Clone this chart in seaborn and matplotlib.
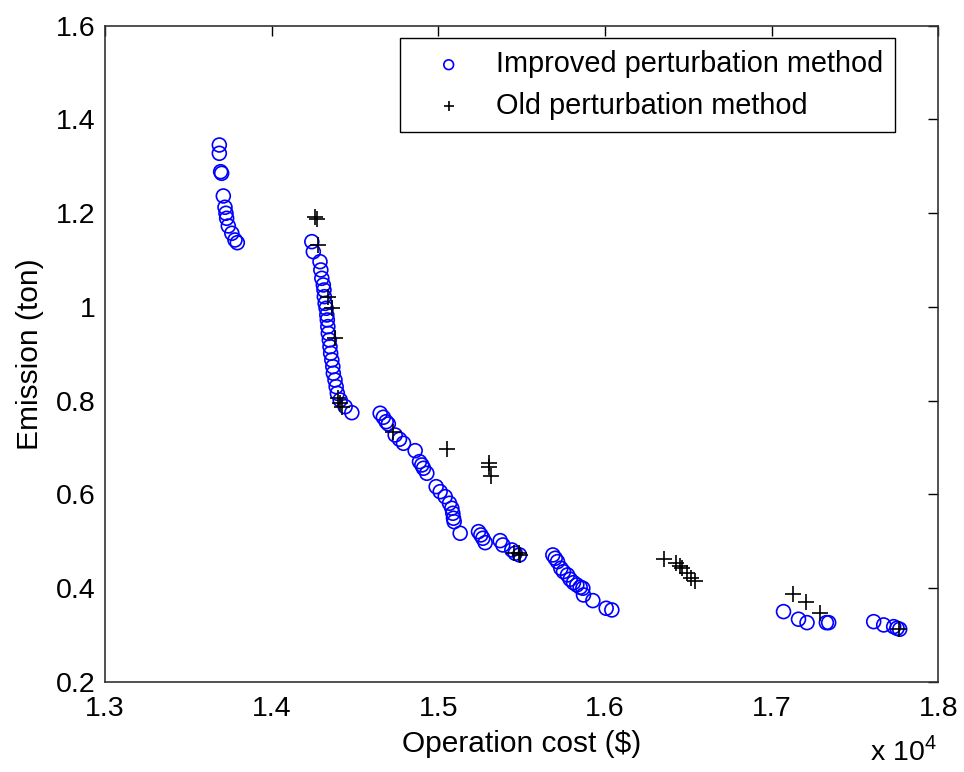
import matplotlib
matplotlib.use("Agg")
import matplotlib.pyplot as plt
import seaborn as sns
import pandas as pd

# Operation cost in units of 10^4 $, emission in ton
improved_cost = [
    1.3686, 1.3686, 1.3694, 1.3700, 1.3710, 1.3720, 1.3726, 1.3730, 1.3740, 1.3761, 1.3780, 1.3794,
    1.4241, 1.4250, 1.4290, 1.4295, 1.4301, 1.4310, 1.4314, 1.4316, 1.4321, 1.4327, 1.4331, 1.4334,
    1.4337, 1.4340, 1.4346, 1.4350, 1.4354, 1.4361, 1.4367, 1.4370, 1.4380, 1.4387, 1.4394, 1.4411,
    1.4441, 1.4481,
    1.4651, 1.4670, 1.4687, 1.4700, 1.4741, 1.4767, 1.4791, 1.4861, 1.4887, 1.4901, 1.4911, 1.4931,
    1.4987, 1.5011, 1.5041, 1.5067, 1.5081, 1.5087, 1.5091, 1.5095, 1.5131, 1.5241, 1.5255, 1.5267,
    1.5281, 1.5371, 1.5387, 1.5441, 1.5461, 1.5487,
    1.5687, 1.5701, 1.5715, 1.5735, 1.5751, 1.5775, 1.5791, 1.5811, 1.5831, 1.5851, 1.5867, 1.5871,
    1.5927, 1.6007, 1.6041,
    1.7071, 1.7161, 1.7212, 1.7328, 1.7342, 1.7612, 1.7672, 1.7732, 1.7752, 1.7768,
]
improved_emission = [
    1.3454, 1.3277, 1.2884, 1.2850, 1.2366, 1.2125, 1.1997, 1.1890, 1.1726, 1.1570, 1.1427, 1.1369,
    1.1391, 1.1177, 1.0964, 1.0787, 1.0609, 1.0467, 1.0360, 1.0217, 1.0074, 0.9969, 0.9826, 0.9720,
    0.9577, 0.9434, 0.9293, 0.9150, 0.9009, 0.8866, 0.8723, 0.8582, 0.8439, 0.8296, 0.8155, 0.8012,
    0.7869, 0.7741,
    0.7729, 0.7643, 0.7549, 0.7500, 0.7265, 0.7174, 0.7088, 0.6930, 0.6696, 0.6625, 0.6555, 0.6448,
    0.6162, 0.6055, 0.5949, 0.5808, 0.5701, 0.5594, 0.5488, 0.5415, 0.5168, 0.5202, 0.5132, 0.5061,
    0.4967, 0.5010, 0.4918, 0.4811, 0.4741, 0.4705,
    0.4705, 0.4634, 0.4562, 0.4421, 0.4348, 0.4278, 0.4186, 0.4114, 0.4065, 0.4015, 0.3994, 0.3851,
    0.3730, 0.3567, 0.3531,
    0.3495, 0.3333, 0.3260, 0.3260, 0.3260, 0.3281, 0.3211, 0.3174, 0.3140, 0.3119,
]

old_cost = [
    1.4261, 1.4273, 1.4280, 1.4340, 1.4361, 1.4381, 1.4400, 1.4411, 1.4421,
    1.4730, 1.5055, 1.5301, 1.5301, 1.5315, 1.5451, 1.5481, 1.5491,
    1.6351, 1.6427, 1.6447, 1.6462, 1.6492, 1.6516, 1.6541,
    1.7128, 1.7208, 1.7288, 1.7762,
]
old_emission = [
    1.1924, 1.1875, 1.1320, 1.0217, 0.9969, 0.9329, 0.8049, 0.7942, 0.7869,
    0.7336, 0.6960, 0.6662, 0.6589, 0.6391, 0.4741, 0.4741, 0.4705,
    0.4613, 0.4540, 0.4470, 0.4421, 0.4314, 0.4207, 0.4156,
    0.3872, 0.3708, 0.3460, 0.3119,
]

labels = ["Improved perturbation method", "Old perturbation method"]
x_ticks = [1.3, 1.4, 1.5, 1.6, 1.7, 1.8]
x_tick_labels = ["1.3", "1.4", "1.5", "1.6", "1.7", "1.8"]
y_ticks = [0.2, 0.4, 0.6, 0.8, 1.0, 1.2, 1.4, 1.6]
y_tick_labels = ["0.2", "0.4", "0.6", "0.8", "1", "1.2", "1.4", "1.6"]

sns.set_style("white")
plt.rcParams["font.family"] = ["Liberation Sans", "DejaVu Sans"]
plt.rcParams["mathtext.fontset"] = "custom"
plt.rcParams["mathtext.rm"] = "Liberation Sans"
plt.rcParams["text.color"] = "black"
plt.rcParams["axes.labelcolor"] = "black"

fig = plt.figure(figsize=(9.64, 7.72), dpi=100)
ax = fig.add_axes([0.1089, 0.1170, 0.8645, 0.8497])

df_imp = pd.DataFrame({"cost": improved_cost, "emission": improved_emission})
df_old = pd.DataFrame({"cost": old_cost, "emission": old_emission})

sns.scatterplot(data=df_imp, x="cost", y="emission", ax=ax, marker="o", s=100,
                facecolors="none", edgecolor="#0000ff", linewidth=1.2, label=labels[0], zorder=2)
sns.scatterplot(data=df_old, x="cost", y="emission", ax=ax, marker="+", s=120,
                color="black", linewidth=1.2, label=labels[1], zorder=3)

ax.set_xlim(1.3, 1.8)
ax.set_ylim(0.2, 1.6)
ax.set_xticks(x_ticks)
ax.set_xticklabels(x_tick_labels)
ax.set_yticks(y_ticks)
ax.set_yticklabels(y_tick_labels)
ax.tick_params(direction="in", length=7, width=1, labelsize=20.5, colors="black",
               top=True, right=True)
ax.tick_params(axis="y", pad=7)
ax.tick_params(axis="x", pad=10)
for sp in ax.spines.values():
    sp.set_color("#333333")
    sp.set_linewidth(1.2)

ax.set_xlabel("Operation cost ($)", fontsize=21.5, labelpad=6)
ax.set_ylabel("Emission (ton)", fontsize=21.5, labelpad=8)
fig.text(0.937, 0.0155, r"x 10$^{4}$", fontsize=20.5, ha="center", va="baseline")

leg = ax.legend(loc="upper right", bbox_to_anchor=(0.948, 0.981), fontsize=20.8,
                frameon=True, fancybox=False, framealpha=1, edgecolor="black",
                borderpad=0.42, handletextpad=0.35, labelspacing=0.47, borderaxespad=0,
                markerscale=0.7, handlelength=2.55)
leg.get_frame().set_linewidth(1.0)
for t in leg.get_texts():
    t.set_color("black")

fig.savefig("out.png", dpi=100)
